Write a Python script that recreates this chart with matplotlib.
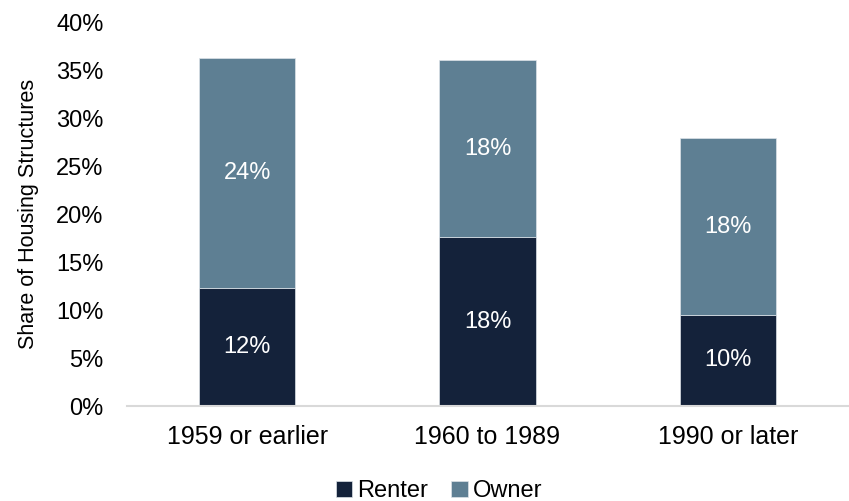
import numpy as np
import matplotlib.pyplot as plt

# categorias y valores (porcentaje del total de estructuras)
periodos = ["1959 or earlier", "1960 to 1989", "1990 or later"]
renter = [12.3, 17.6, 9.5]
owner = [24.0, 18.4, 18.4]
etiquetas_renter = ["12%", "18%", "10%"]
etiquetas_owner = ["24%", "18%", "18%"]

color_renter = "#14223A"
color_owner = "#5E7F93"

plt.rcParams["font.family"] = ["Liberation Sans", "DejaVu Sans"]

fig = plt.figure(figsize=(8.49, 5.01), dpi=100)
ax = fig.add_axes([0.1496, 0.1896, 0.8492, 0.7664])

x = np.arange(len(periodos))

b1 = ax.bar(x, renter, width=0.4, color=color_renter, label="Renter",
            edgecolor="#DDE3E8", linewidth=0.5)
b2 = ax.bar(x, owner, width=0.4, bottom=renter, color=color_owner,
            label="Owner", edgecolor="#DDE3E8", linewidth=0.5)

# etiquetas dentro de cada segmento
for i in range(len(x)):
    ax.text(x[i], renter[i] / 2, etiquetas_renter[i], ha="center",
            va="center", color="white", fontsize=17)
    ax.text(x[i], renter[i] + owner[i] / 2, etiquetas_owner[i],
            ha="center", va="center", color="white", fontsize=17)

ax.set_xlim(-0.5, 2.5)
ax.set_ylim(0, 40)
ax.set_yticks(np.arange(0, 41, 5))
ax.set_yticklabels([f"{v}%" for v in range(0, 41, 5)], fontsize=17)
ax.set_xticks(x)
ax.set_xticklabels(periodos, fontsize=18)
ax.tick_params(axis="both", length=0)
ax.tick_params(axis="y", pad=17)
ax.tick_params(axis="x", pad=14)

ax.set_ylabel("Share of Housing Structures", fontsize=15.5, labelpad=12)

for lado in ["top", "right", "left"]:
    ax.spines[lado].set_visible(False)
ax.spines["bottom"].set_color("#D9D9D9")
ax.spines["bottom"].set_linewidth(1.5)

fig.legend(handles=[b1, b2], labels=["Renter", "Owner"], loc="lower center",
           bbox_to_anchor=(0.517, -0.045), ncol=2, frameon=False,
           fontsize=17, handlelength=0.7, handleheight=0.7,
           handletextpad=0.2, columnspacing=1.0)

fig.savefig("out.png", dpi=100)
